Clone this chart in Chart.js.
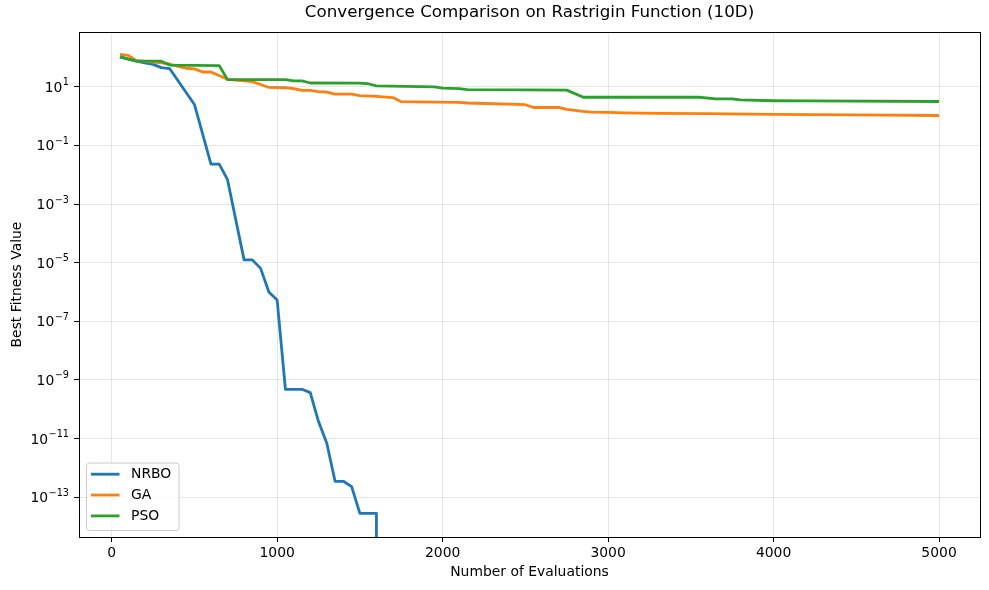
<!DOCTYPE html>
<html lang="en">
<head>
<meta charset="UTF-8">
<title>Convergence Comparison</title>
<script src="https://cdn.jsdelivr.net/npm/chart.js"></script>
<style>
    body { margin: 0; background: #fff; }
    #wrap { width: 989px; height: 590px; }
</style>
</head>
<body>
<div id="wrap"><canvas id="convChart"></canvas></div>

<script>
    const seriesNames = ['NRBO', 'GA', 'PSO'];
    const seriesColors = ['#1f77b4', '#ff7f0e', '#2ca02c'];

    // best fitness (0 = reached zero, drops off the log axis)
    const nrboEvals = [50, 100, 150, 200, 250, 300, 350, 500, 600, 650, 700, 800, 850, 900, 950, 1000,
                       1050, 1150, 1200, 1250, 1300, 1350, 1400, 1450, 1500, 1600, 1600];
    const nrboBest  = [105, 88, 75, 66, 58, 45, 42, 2.5, 0.023, 0.023, 0.0068, 1.25e-5, 1.25e-5, 6.4e-6, 1.0e-6, 5.3e-7,
                       4.8e-10, 4.8e-10, 3.7e-10, 3.8e-11, 6.9e-12, 3.5e-13, 3.5e-13, 2.3e-13, 2.8e-14, 2.8e-14, 0];

    const gaEvals = [50, 100, 150, 300, 350, 400, 450, 500, 550, 600, 700, 750, 800, 850, 900, 950, 1050, 1100,
                     1150, 1200, 1250, 1300, 1350, 1450, 1500, 1600, 1700, 1750, 1950, 2100, 2150, 2500, 2550,
                     2700, 2750, 2850, 2900, 3000, 3100, 3300, 3600, 4000, 4500, 5000];
    const gaBest  = [128, 118, 78, 66, 60, 50, 43, 41, 32, 32, 18, 17, 16, 15, 12, 9.5, 9.3, 8.7,
                     7.5, 7.5, 6.9, 6.6, 5.6, 5.6, 5.0, 4.7, 4.3, 3.1, 3.0, 2.95, 2.8, 2.45, 1.97,
                     1.97, 1.7, 1.44, 1.36, 1.35, 1.3, 1.25, 1.22, 1.15, 1.1, 1.05];

    const psoEvals = [50, 150, 300, 350, 650, 700, 1050, 1100, 1150, 1200, 1500, 1550, 1600, 1950, 2000,
                      2100, 2150, 2500, 2750, 2850, 3550, 3650, 3750, 3800, 4000, 4200, 5000];
    const psoBest  = [105, 75, 75, 55, 53, 17.5, 17.5, 16, 16, 13.5, 13.4, 12.7, 10.8, 9.9, 9.0,
                      8.7, 8.0, 7.9, 7.7, 4.4, 4.4, 3.9, 3.9, 3.6, 3.35, 3.3, 3.15];

    const xTicks = [0, 1000, 2000, 3000, 4000, 5000];
    const yTickExps = [1, -1, -3, -5, -7, -9, -11, -13];

    const xMin = -197.5, xMax = 5247.5;
    const yMin = 4.4e-15, yMax = 738;
    const clipFloor = 1e-300; // like matplotlib, non-positive values are clipped far below the axis

    const FONT = 'DejaVu Sans';

    function toPoints(evals, vals) {
        return evals.map((x, i) => ({ x: x, y: vals[i] > 0 ? vals[i] : clipFloor }));
    }

    const framePlugin = {
        id: 'frame',
        afterDatasetsDraw(chart) {
            const { ctx, chartArea: a } = chart;
            ctx.save();
            ctx.strokeStyle = '#000';
            ctx.lineWidth = 1;
            ctx.strokeRect(Math.round(a.left) + 0.5, Math.round(a.top) + 0.5,
                           Math.round(a.right - a.left), Math.round(a.bottom - a.top));
            ctx.restore();
        }
    };

    // "10" with a raised, smaller exponent, as matplotlib's mathtext does
    const powerLabels = {
        id: 'powerLabels',
        afterDraw(chart) {
            const { ctx, chartArea: a } = chart;
            const yScale = chart.scales.y;
            ctx.save();
            ctx.fillStyle = '#000';
            ctx.textBaseline = 'alphabetic';
            ctx.textAlign = 'left';
            yTickExps.forEach(e => {
                const y = yScale.getPixelForValue(Math.pow(10, e));
                const expText = String(e).replace('-', '\u2212');
                ctx.font = '9.7px "' + FONT + '"';
                const expW = ctx.measureText(expText).width;
                ctx.font = '13.9px "' + FONT + '"';
                const baseW = ctx.measureText('10').width;
                const right = a.left - 10.5;
                const x0 = right - expW - baseW;
                ctx.fillText('10', x0, y + 5);
                ctx.font = '9.7px "' + FONT + '"';
                ctx.fillText(expText, x0 + baseW + 0.5, y - 1.5);
            });
            ctx.restore();
        }
    };

    const cornerLegend = {
        id: 'cornerLegend',
        afterDraw(chart) {
            const { ctx, chartArea: a } = chart;
            const boxW = 92.5, boxH = 67.5;
            const boxX = a.left + 7.5, boxY = a.bottom - 6.5 - boxH;
            ctx.save();
            ctx.beginPath();
            ctx.roundRect(boxX, boxY, boxW, boxH, 3);
            ctx.fillStyle = 'rgba(255,255,255,0.8)';
            ctx.fill();
            ctx.strokeStyle = '#cccccc';
            ctx.lineWidth = 1;
            ctx.stroke();
            ctx.font = '13.9px "' + FONT + '"';
            ctx.textBaseline = 'middle';
            ctx.fillStyle = '#000';
            seriesNames.forEach((name, i) => {
                const y = boxY + 11.2 + i * 20.85;
                ctx.beginPath();
                ctx.moveTo(boxX + 4.5, y);
                ctx.lineTo(boxX + 33, y);
                ctx.strokeStyle = seriesColors[i];
                ctx.lineWidth = 2.8;
                ctx.stroke();
                ctx.fillText(name, boxX + 44.5, y + 0.5);
            });
            ctx.restore();
        }
    };

    const seriesData = [toPoints(nrboEvals, nrboBest), toPoints(gaEvals, gaBest), toPoints(psoEvals, psoBest)];

    new Chart(document.getElementById('convChart'), {
        type: 'line',
        data: {
            datasets: seriesNames.map((name, i) => ({
                label: name,
                data: seriesData[i],
                borderColor: seriesColors[i],
                backgroundColor: seriesColors[i],
                borderWidth: 2.8,
                borderJoinStyle: 'round',
                pointRadius: 0,
                tension: 0,
                fill: false,
                clip: 0,
                order: seriesNames.length - i
            }))
        },
        options: {
            responsive: true,
            maintainAspectRatio: false,
            animation: false,
            layout: { padding: { top: 0, right: 9, bottom: 0, left: 0 } },
            plugins: {
                legend: { display: false },
                tooltip: { enabled: false },
                title: {
                    display: true,
                    text: 'Convergence Comparison on Rastrigin Function (10D)',
                    fullSize: false,
                    color: '#000',
                    font: { family: FONT, size: 16.7, weight: 'normal', lineHeight: 1.2 },
                    padding: { top: 3, bottom: 9 }
                }
            },
            scales: {
                x: {
                    type: 'linear',
                    min: xMin,
                    max: xMax,
                    afterBuildTicks: s => { s.ticks = xTicks.map(v => ({ value: v })); },
                    afterFit: s => { s.height = 53; },
                    grid: { color: 'rgba(176,176,176,0.3)', lineWidth: 1, tickLength: 5, tickColor: '#000', tickWidth: 1 },
                    border: { display: false },
                    ticks: { autoSkip: false, maxRotation: 0, padding: 3, color: '#000',
                             font: { family: FONT, size: 13.9 },
                             callback: v => String(v) },
                    title: { display: true, text: 'Number of Evaluations', color: '#000',
                             font: { family: FONT, size: 13.9, lineHeight: 1 }, padding: { top: 0, bottom: 11 } }
                },
                y: {
                    type: 'logarithmic',
                    min: yMin,
                    max: yMax,
                    afterBuildTicks: s => { s.ticks = yTickExps.map(e => ({ value: Math.pow(10, e) })); },
                    afterFit: s => { s.width = 79; },
                    grid: { color: 'rgba(176,176,176,0.3)', lineWidth: 1, tickLength: 5, tickColor: '#000', tickWidth: 1 },
                    border: { display: false },
                    ticks: { autoSkip: false, padding: 5, color: '#000',
                             font: { family: FONT, size: 13.9 },
                             callback: () => '' },
                    title: { display: true, text: 'Best Fitness Value', color: '#000',
                             font: { family: FONT, size: 13.9, lineHeight: 1 }, padding: { top: 10, bottom: 0 } }
                }
            }
        },
        plugins: [framePlugin, powerLabels, cornerLegend]
    });
</script>
</body>
</html>
